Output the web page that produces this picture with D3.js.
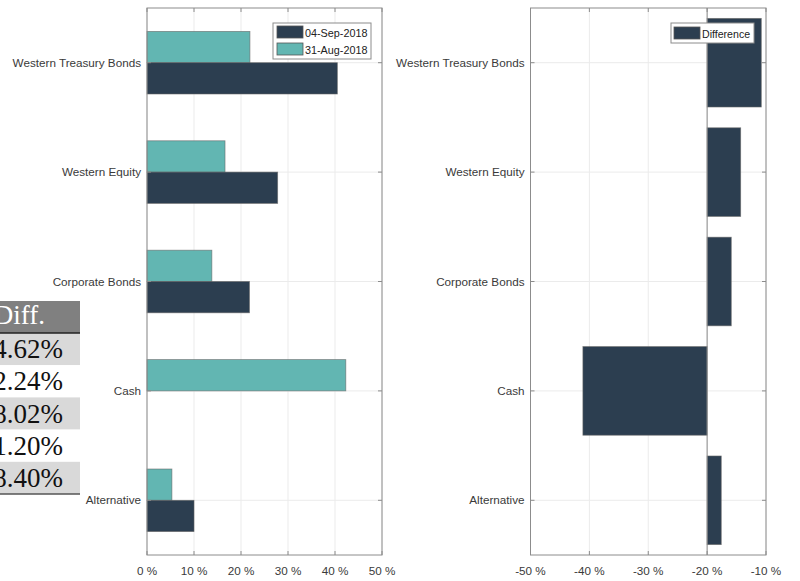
<!DOCTYPE html>
<html>
<head>
<meta charset="utf-8">
<script src="https://cdn.jsdelivr.net/npm/d3@7"></script>
<style>
  body { margin: 0; background: #fff; }
  svg { display: block; }
</style>
</head>
<body>
<div id="chart"></div>
<script>
// data
var categories = ["Western Treasury Bonds", "Western Equity", "Corporate Bonds", "Cash", "Alternative"];
var sep2018 = [40.5, 27.8, 21.8, 0, 10.0];
var aug2018 = [21.9, 16.6, 13.8, 42.3, 5.3];
var difference = [-10.8, -14.3, -15.9, -41.1, -17.6];
var diffBase = -20;
var leftTicks = [0, 10, 20, 30, 40, 50];
var rightTicks = [-50, -40, -30, -20, -10];
var tableHeader = "Diff.";
var tableRows = ["4.62%", "2.24%", "8.02%", "1.20%", "8.40%"];

var dark = "#2c3e50", teal = "#62b6b2";
var W = 800, H = 581;
var yTop = 8, yBottom = 555;
var sans = "'Liberation Sans', Arial, sans-serif";
var serif = "'Liberation Serif', 'DejaVu Serif', serif";
var labelColor = "#3a3a3a";

var svg = d3.select("#chart").append("svg")
  .attr("width", W).attr("height", H)
  .style("font-family", sans);

var y = d3.scaleBand().domain(categories).range([yTop, yBottom]).padding(0);

function drawGrid(g, x, ticks, left, right) {
  g.selectAll(".gx").data(ticks).enter().append("line")
    .attr("x1", function(d) { return x(d); }).attr("x2", function(d) { return x(d); })
    .attr("y1", yTop).attr("y2", yBottom)
    .attr("stroke", "#ebebeb").attr("stroke-width", 1);
  g.selectAll(".gy").data(categories).enter().append("line")
    .attr("x1", left).attr("x2", right)
    .attr("y1", function(d) { return y(d) + y.bandwidth() / 2; })
    .attr("y2", function(d) { return y(d) + y.bandwidth() / 2; })
    .attr("stroke", "#ebebeb").attr("stroke-width", 1);
}

function drawFrame(g, x, ticks, left, right, fmt) {
  g.append("rect")
    .attr("x", left).attr("y", yTop)
    .attr("width", right - left).attr("height", yBottom - yTop)
    .attr("fill", "none").attr("stroke", "#8c8c8c").attr("stroke-width", 1);
  ticks.forEach(function(t) {
    g.append("line").attr("x1", x(t)).attr("x2", x(t)).attr("y1", yBottom).attr("y2", yBottom - 4)
      .attr("stroke", "#8c8c8c");
    g.append("line").attr("x1", x(t)).attr("x2", x(t)).attr("y1", yTop).attr("y2", yTop + 4)
      .attr("stroke", "#8c8c8c");
    g.append("text").attr("x", x(t)).attr("y", 575)
      .attr("text-anchor", "middle").attr("font-size", 11.7).attr("fill", labelColor)
      .text(fmt(t));
  });
  categories.forEach(function(c) {
    var cy = y(c) + y.bandwidth() / 2;
    g.append("line").attr("x1", left).attr("x2", left + 4).attr("y1", cy).attr("y2", cy).attr("stroke", "#8c8c8c");
    g.append("line").attr("x1", right).attr("x2", right - 4).attr("y1", cy).attr("y2", cy).attr("stroke", "#8c8c8c");
    g.append("text").attr("x", left - 6).attr("y", cy + 4)
      .attr("text-anchor", "end").attr("font-size", 11.7).attr("fill", labelColor)
      .text(c);
  });
}

var fmt = function(d) { return d + " %"; };

// left plot
var xL = d3.scaleLinear().domain([0, 50]).range([147, 382]);
var gL = svg.append("g");
drawGrid(gL, xL, leftTicks, 147, 382);

var inner = d3.scaleBand().domain(["aug", "sep"]).range([0, 62.6]);
var offset = (y.bandwidth() - 62.6) / 2;

gL.selectAll(".aug").data(categories).enter().append("rect")
  .attr("x", xL(0))
  .attr("y", function(d) { return y(d) + offset + inner("aug"); })
  .attr("width", function(d, i) { return xL(aug2018[i]) - xL(0); })
  .attr("height", inner.bandwidth())
  .attr("fill", teal).attr("stroke", "#666").attr("stroke-opacity", 0.7).attr("stroke-width", 0.8);

gL.selectAll(".sep").data(categories).enter().append("rect")
  .attr("x", xL(0))
  .attr("y", function(d) { return y(d) + offset + inner("sep"); })
  .attr("width", function(d, i) { return xL(sep2018[i]) - xL(0); })
  .attr("height", inner.bandwidth())
  .attr("fill", dark).attr("stroke", "#666").attr("stroke-opacity", 0.7).attr("stroke-width", 0.8);

drawFrame(gL, xL, leftTicks, 147, 382, fmt);

// left legend
var lg = gL.append("g");
lg.append("rect").attr("x", 273).attr("y", 23).attr("width", 98).attr("height", 36)
  .attr("fill", "#fff").attr("stroke", "#8c8c8c");
[["04-Sep-2018", dark], ["31-Aug-2018", teal]].forEach(function(e, i) {
  lg.append("rect").attr("x", 277).attr("y", 26 + i * 17).attr("width", 26).attr("height", 12)
    .attr("fill", e[1]).attr("stroke", "#555").attr("stroke-width", 0.8);
  lg.append("text").attr("x", 305).attr("y", 36.5 + i * 17).attr("font-size", 10.8).attr("fill", "#222")
    .text(e[0]);
});

// right plot
var xR = d3.scaleLinear().domain([-50, -10]).range([530.5, 766]);
var gR = svg.append("g");
drawGrid(gR, xR, rightTicks, 530.5, 766);

var barH = y.bandwidth() * 0.81;
gR.selectAll(".diff").data(categories).enter().append("rect")
  .attr("x", function(d, i) { return xR(Math.min(diffBase, difference[i])); })
  .attr("y", function(d) { return y(d) + (y.bandwidth() - barH) / 2; })
  .attr("width", function(d, i) { return Math.abs(xR(difference[i]) - xR(diffBase)); })
  .attr("height", barH)
  .attr("fill", dark).attr("stroke", "#666").attr("stroke-opacity", 0.7).attr("stroke-width", 0.8);

gR.append("line").attr("x1", xR(diffBase)).attr("x2", xR(diffBase))
  .attr("y1", yTop).attr("y2", yBottom).attr("stroke", "#8c8c8c");

drawFrame(gR, xR, rightTicks, 530.5, 766, fmt);

var rg = gR.append("g");
rg.append("rect").attr("x", 671).attr("y", 23).attr("width", 83).attr("height", 20)
  .attr("fill", "#fff").attr("stroke", "#8c8c8c");
rg.append("rect").attr("x", 674).attr("y", 27).attr("width", 26).attr("height", 12)
  .attr("fill", dark).attr("stroke", "#555").attr("stroke-width", 0.8);
rg.append("text").attr("x", 702).attr("y", 37.5).attr("font-size", 10.6).attr("fill", "#222")
  .text("Difference");

// table cut off at left edge
var tbl = svg.append("g").style("font-family", serif);
var rowY = d3.scaleBand().domain(d3.range(tableRows.length)).range([333, 494]);
tbl.append("rect").attr("x", 0).attr("y", 301).attr("width", 80).attr("height", 32).attr("fill", "#808080");
tbl.append("text").attr("x", 45).attr("y", 324).attr("text-anchor", "end")
  .attr("font-size", 27).attr("fill", "#fff")
  .text(tableHeader);
tbl.selectAll(".row").data(tableRows).enter().append("rect")
  .attr("x", 0).attr("y", function(d, i) { return rowY(i); })
  .attr("width", 80).attr("height", rowY.bandwidth())
  .attr("fill", function(d, i) { return i % 2 === 0 ? "#d9d9d9" : "#fff"; });
tbl.selectAll(".rowt").data(tableRows).enter().append("text")
  .attr("x", 63).attr("y", function(d, i) { return rowY(i) + rowY.bandwidth() / 2 + 9; })
  .attr("text-anchor", "end")
  .attr("font-size", 27).attr("fill", "#111")
  .text(function(d) { return d; });
tbl.append("line").attr("x1", 0).attr("x2", 80).attr("y1", 333).attr("y2", 333).attr("stroke", "#222").attr("stroke-width", 1.5);
tbl.append("line").attr("x1", 0).attr("x2", 80).attr("y1", 494).attr("y2", 494).attr("stroke", "#555").attr("stroke-width", 1.5);
</script>
</body>
</html>
